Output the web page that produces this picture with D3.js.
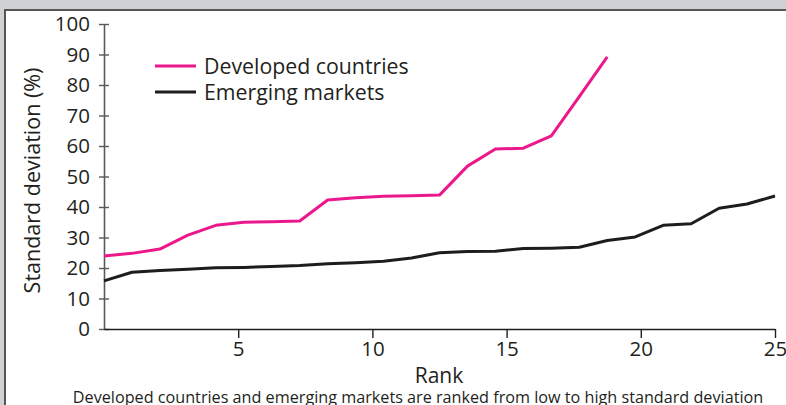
<!DOCTYPE html>
<html>
<head>
  <meta charset="utf-8">
  <script src="https://d3js.org/d3.v7.min.js"></script>
  <style>
    body { margin: 0; background: #d0d1d3; }
    #chart { position: absolute; left: 0; top: 0; }
    text { font-family: "Open Sans", "Noto Sans", sans-serif; fill: #231f20; }
  </style>
</head>
<body>
<div id="chart"></div>
<script>
  // ranks 1..25, ranked from low to high standard deviation
  const developed = [23.9, 24.8, 26.2, 30.8, 34.0, 35.0, 35.2, 35.4, 42.3, 43.0,
    43.5, 43.7, 43.9, 53.4, 59.0, 59.3, 63.3, 76.2, 89.2];
  const emerging = [15.8, 18.6, 19.2, 19.6, 20.1, 20.2, 20.5, 20.8, 21.4, 21.7,
    22.2, 23.3, 25.0, 25.4, 25.5, 26.4, 26.5, 26.8, 29.0, 30.2,
    34.0, 34.5, 39.6, 41.0, 43.6];
  const xTicks = [5, 10, 15, 20, 25];
  const yTicks = [0, 10, 20, 30, 40, 50, 60, 70, 80, 90, 100];

  const width = 786;
  const height = 405;
  const plotLeft = 104, plotRight = 775, plotTop = 24, plotBottom = 329;

  const svg = d3.select("#chart")
    .append("svg")
    .attr("width", width)
    .attr("height", height);

  // frame: white panel inside a grey border with a dark edge
  svg.append("rect").attr("x", 0).attr("y", 0).attr("width", width).attr("height", height).attr("fill", "#d0d1d3");
  svg.append("rect").attr("x", 4).attr("y", 9).attr("width", width - 4).attr("height", height - 9).attr("fill", "#555658");
  svg.append("rect").attr("x", 6).attr("y", 11).attr("width", width - 6).attr("height", height - 11).attr("fill", "#ffffff");

  const xRank = d3.scaleLinear().domain([1, 25]).range([plotLeft, plotRight]);
  const xAxisScale = d3.scaleLinear().domain([0, 25]).range([plotLeft, plotRight]);
  const y = d3.scaleLinear().domain([0, 100]).range([plotBottom, plotTop]);

  // y axis
  const yAxis = svg.append("g")
    .attr("transform", `translate(${plotLeft},0)`)
    .call(d3.axisLeft(y).tickValues(yTicks).tickSize(0).tickPadding(14));
  yAxis.select(".domain").attr("stroke", "#58595b").attr("stroke-width", 1.6);
  yAxis.selectAll(".tick line").remove();
  yAxis.selectAll(".tick").append("line")
    .attr("x1", -5).attr("x2", 5)
    .attr("stroke", "#58595b").attr("stroke-width", 1.4);
  yAxis.selectAll("text")
    .attr("font-size", 20.5)
    .style("font-family", "Open Sans, Noto Sans, sans-serif")
    .attr("fill", "#231f20");

  // x axis
  const xAxis = svg.append("g")
    .attr("transform", `translate(0,${plotBottom})`)
    .call(d3.axisBottom(xAxisScale).tickValues(xTicks).tickSize(9).tickSizeOuter(0).tickPadding(3));
  xAxis.select(".domain").attr("stroke", "#231f20").attr("stroke-width", 1.6);
  xAxis.selectAll(".tick line").attr("stroke", "#231f20").attr("stroke-width", 1.4);
  xAxis.selectAll("text")
    .attr("font-size", 20.5)
    .style("font-family", "Open Sans, Noto Sans, sans-serif")
    .attr("fill", "#231f20");

  const line = d3.line()
    .x((d, i) => xRank(i + 1))
    .y(d => y(d));

  svg.append("path")
    .datum(emerging)
    .attr("d", line)
    .attr("fill", "none")
    .attr("stroke", "#1f1c1d")
    .attr("stroke-width", 3)
    .attr("stroke-linejoin", "round");

  svg.append("path")
    .datum(developed)
    .attr("d", line)
    .attr("fill", "none")
    .attr("stroke", "#ec178b")
    .attr("stroke-width", 3)
    .attr("stroke-linejoin", "round");

  // legend
  const legend = [
    { name: "Developed countries", color: "#ec178b", y: 66 },
    { name: "Emerging markets", color: "#1f1c1d", y: 92 }
  ];
  legend.forEach(d => {
    svg.append("line")
      .attr("x1", 155).attr("x2", 196)
      .attr("y1", d.y).attr("y2", d.y)
      .attr("stroke", d.color).attr("stroke-width", 3);
    svg.append("text")
      .attr("x", 204).attr("y", d.y + 7.5)
      .attr("font-size", 21.3)
      .text(d.name);
  });

  // axis titles
  svg.append("text")
    .attr("transform", `translate(40,${(plotTop + plotBottom) / 2 + 4}) rotate(-90)`)
    .attr("text-anchor", "middle")
    .attr("font-size", 21.5)
    .text("Standard deviation (%)");

  svg.append("text")
    .attr("x", 439).attr("y", 383)
    .attr("text-anchor", "middle")
    .attr("font-size", 21)
    .text("Rank");

  svg.append("text")
    .attr("x", 418).attr("y", 403)
    .attr("text-anchor", "middle")
    .attr("font-size", 16.2)
    .text("Developed countries and emerging markets are ranked from low to high standard deviation");
</script>
</body>
</html>
